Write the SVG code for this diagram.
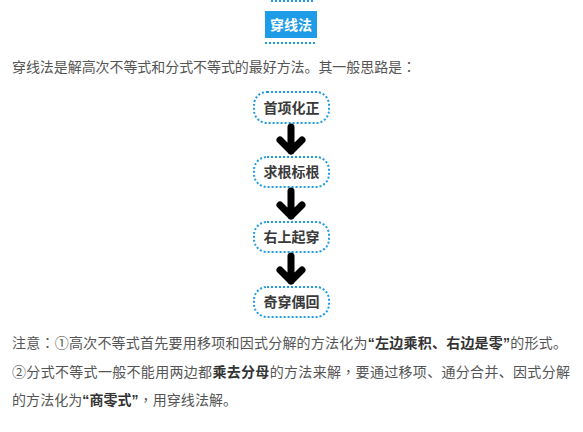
<svg xmlns="http://www.w3.org/2000/svg" width="583" height="432" viewBox="0 0 583 432">
<style>
.t{font-family:"Noto Sans CJK SC","Noto Sans",sans-serif;font-size:14px;fill:#555}
.b{font-weight:bold;fill:#333}
.q{font-family:"Liberation Sans",sans-serif}
.c{font-family:"Noto Sans CJK TC",sans-serif}
.node rect{fill:#fff;stroke:#1f9ce8;stroke-width:2;stroke-dasharray:2 2}
.node text{font-family:"Noto Sans CJK SC","Noto Sans",sans-serif;font-size:14px;font-weight:bold;fill:#3a3a3a;text-anchor:middle}
.dot{stroke:#1f9ce8;stroke-width:2;stroke-dasharray:2 2;fill:none}
#connectors path{fill:none;stroke:#000;stroke-width:7;stroke-linecap:round;stroke-linejoin:round}
</style>
<rect width="583" height="432" fill="#fff"/>
<g id="title">
<line class="dot" x1="271" y1="1" x2="313" y2="1"/>
<rect x="265" y="11" width="52" height="27" fill="#1f9ce8"/>
<text x="291" y="30" text-anchor="middle" style="font-family:'Noto Sans CJK SC',sans-serif;font-size:14px;font-weight:bold;fill:#fff">穿线法</text>
<line class="dot" x1="265" y1="43" x2="317" y2="43"/>
</g>
<text class="t" x="12" y="72" textLength="404" lengthAdjust="spacing">穿线法是解高次不等式和分式不等式的最好方法。其一般思路是<tspan class="c">：</tspan></text>
<g id="node1" class="node"><rect x="254" y="92" width="75" height="31" rx="13"/><text x="291.5" y="112.5">首项化正</text></g>
<g id="node2" class="node"><rect x="254" y="157" width="75" height="30" rx="13"/><text x="291.5" y="177">求根标根</text></g>
<g id="node3" class="node"><rect x="254" y="222" width="75" height="30" rx="13"/><text x="291.5" y="242">右上起穿</text></g>
<g id="node4" class="node"><rect x="254" y="287" width="75" height="30" rx="13"/><text x="291.5" y="307">奇穿偶回</text></g>
<g id="connectors">
<path d="M291,127 V151 M280,140 L291,151 L302,140"/>
<path d="M291,191 V216 M280,205 L291,216 L302,205"/>
<path d="M291,256 V281 M280,270 L291,281 L302,270"/>
</g>
<text class="t" x="12" y="348" textLength="555" lengthAdjust="spacing">注意<tspan class="c">：</tspan>①高次不等式首先要用移项和因式分解的方法化为<tspan class="b"><tspan class="q">“</tspan>左边乘积、右边是零<tspan class="q">”</tspan></tspan>的形式。</text>
<text class="t" x="12" y="377" textLength="558" lengthAdjust="spacing">②分式不等式一般不能用两边都<tspan class="b">乘去分母</tspan>的方法来解<tspan class="c">，</tspan>要通过移项、通分合并、因式分解</text>
<text class="t" x="12" y="405" textLength="225" lengthAdjust="spacing">的方法化为<tspan class="b"><tspan class="q">“</tspan>商零式<tspan class="q">”</tspan></tspan><tspan class="c">，</tspan>用穿线法解。</text>
</svg>
